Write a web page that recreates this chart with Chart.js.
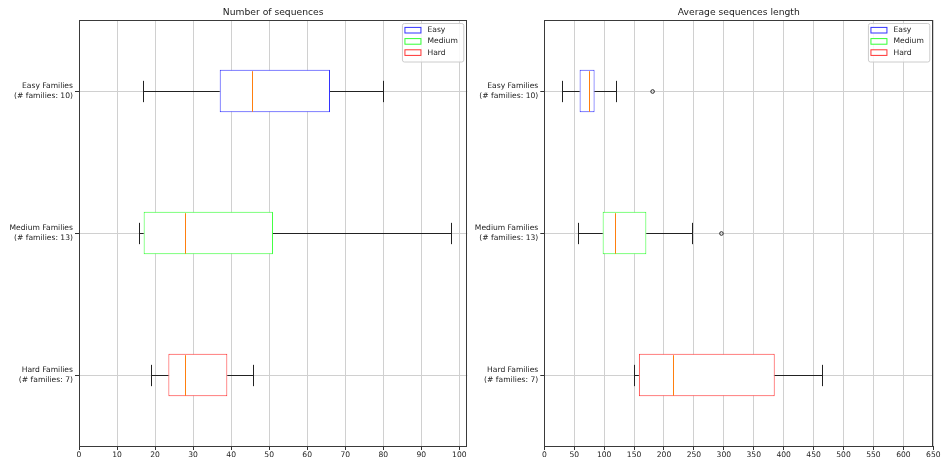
<!DOCTYPE html>
<html>
<head>
<meta charset="utf-8">
<script src="https://cdn.jsdelivr.net/npm/chart.js@4.4.0/dist/chart.umd.min.js"></script>
<style>
    body { margin: 0; background: #fff; }
    #left { position: absolute; left: 0; top: 0; }
    #right { position: absolute; left: 470px; top: 0; }
</style>
</head>
<body>
<canvas id="left" width="470" height="461"></canvas>
<canvas id="right" width="473" height="461"></canvas>
<script>
// الفئات والمستويات
const categories = [
    ['Easy Families', '(# families: 10)'],
    ['Medium Families', '(# families: 13)'],
    ['Hard Families', '(# families: 7)']
];
const levels = ['Easy', 'Medium', 'Hard'];
const levelColors = ['#3333ff', '#33ff33', '#ff3333'];

// عدد التسلسلات
const countLow = [17, 16, 19];
const countQ1 = [37, 17, 23.5];
const countMedian = [45.5, 28, 28];
const countQ3 = [66, 51, 39];
const countHigh = [80, 98, 46];
const countOutliers = [[], [], []];
const countTicks = [0, 10, 20, 30, 40, 50, 60, 70, 80, 90, 100];

// متوسط طول التسلسلات
const lenLow = [30, 57, 151];
const lenQ1 = [59, 97.5, 158];
const lenMedian = [75, 119, 216];
const lenQ3 = [84, 170.5, 385];
const lenHigh = [120, 248, 465];
const lenOutliers = [[181], [296], []];
const lenTicks = [0, 50, 100, 150, 200, 250, 300, 350, 400, 450, 500, 550, 600, 650];

const FONT = 'DejaVu Sans';

// محاذاة الخط على البكسل ليبقى حادا
const snap = v => Math.round(v - 0.5) + 0.5;

// رسم الشعيرات والوسيط والإطار ومفتاح الرسم والعنوان
const boxPlugin = {
    id: 'boxExtras',
    afterDatasetsDraw(chart) {
        const st = chart.options.plugins.boxExtras;
        const xs = chart.scales.x;
        const ys = chart.scales.y;
        const ctx = chart.ctx;
        const band = ys.getPixelForValue(1) - ys.getPixelForValue(0);
        const boxHalf = band * 0.15;
        const capHalf = band * 0.075;
        ctx.save();
        ctx.lineWidth = 1;
        categories.forEach((c, j) => {
            const y = snap(ys.getPixelForValue(j));
            const lo = snap(xs.getPixelForValue(st.low[j]));
            const q1 = xs.getPixelForValue(st.q1[j]);
            const q3 = xs.getPixelForValue(st.q3[j]);
            const hi = snap(xs.getPixelForValue(st.high[j]));
            const med = snap(xs.getPixelForValue(st.median[j]));
            ctx.strokeStyle = '#222';
            ctx.beginPath();
            ctx.moveTo(lo, y); ctx.lineTo(q1, y);
            ctx.moveTo(q3, y); ctx.lineTo(hi, y);
            ctx.moveTo(lo, y - capHalf); ctx.lineTo(lo, y + capHalf);
            ctx.moveTo(hi, y - capHalf); ctx.lineTo(hi, y + capHalf);
            ctx.stroke();
            ctx.strokeStyle = '#ff7f0e';
            ctx.beginPath();
            ctx.moveTo(med, y - boxHalf + 1); ctx.lineTo(med, y + boxHalf - 1);
            ctx.stroke();
            ctx.strokeStyle = '#222';
            st.outliers[j].forEach(v => {
                ctx.beginPath();
                ctx.arc(xs.getPixelForValue(v), y, 1.8, 0, Math.PI * 2);
                ctx.stroke();
            });
        });
        ctx.restore();
    },
    afterDraw(chart) {
        const st = chart.options.plugins.boxExtras;
        const a = chart.chartArea;
        const ctx = chart.ctx;
        ctx.save();
        // الإطار
        ctx.strokeStyle = '#3a3a3a';
        ctx.lineWidth = 1;
        ctx.strokeRect(Math.round(a.left) + 0.5, Math.round(a.top) + 0.5,
            Math.round(a.right - a.left) - 1, Math.round(a.bottom - a.top));
        // العنوان فوق منطقة الرسم
        ctx.fillStyle = '#222';
        ctx.font = `9.2px "${FONT}"`;
        ctx.textAlign = 'center';
        ctx.textBaseline = 'middle';
        ctx.fillText(st.title, (a.left + a.right) / 2, a.top - 7.5);
        // مفتاح الرسم
        ctx.font = `7.6px "${FONT}"`;
        const tw = Math.max(...chart.data.datasets.map(d => ctx.measureText(d.label).width));
        const w = 25 + tw + 6;
        const h = 38.5;
        const fx = a.right - 3.5 - w;
        const fy = a.top + 3.5;
        ctx.fillStyle = 'rgba(255,255,255,0.85)';
        ctx.strokeStyle = '#cccccc';
        ctx.beginPath();
        ctx.roundRect(fx, fy, w, h, 2);
        ctx.fill();
        ctx.stroke();
        chart.data.datasets.forEach((d, i) => {
            const cy = fy + 6.7 + i * 11.2;
            ctx.fillStyle = '#fff';
            ctx.strokeStyle = d.borderColor;
            ctx.fillRect(fx + 2.5, cy - 2.8, 16, 5.6);
            ctx.strokeRect(fx + 2.5, cy - 2.8, 16, 5.6);
            ctx.fillStyle = '#222';
            ctx.textBaseline = 'middle';
            ctx.textAlign = 'left';
            ctx.fillText(d.label, fx + 25, cy);
        });
        ctx.restore();
    }
};

function makeChart(id, title, low, q1, median, q3, high, outliers, ticks, xMax, yWidth, padRight) {
    const datasets = levels.map((lvl, i) => ({
        label: lvl,
        data: categories.map((c, j) => j === i ? [q1[j], q3[j]] : null),
        borderColor: levelColors[i],
        backgroundColor: '#ffffff',
        borderWidth: 1,
        borderSkipped: false,
        grouped: false,
        barPercentage: 0.3,
        categoryPercentage: 1
    }));
    return new Chart(document.getElementById(id), {
        type: 'bar',
        data: { labels: categories, datasets: datasets },
        plugins: [boxPlugin],
        options: {
            indexAxis: 'y',
            responsive: false,
            animation: false,
            layout: { padding: { left: 0, right: padRight, top: 20, bottom: 0 } },
            plugins: {
                legend: { display: false },
                tooltip: { enabled: false },
                title: { display: false },
                boxExtras: { title, low, q1, median, q3, high, outliers }
            },
            scales: {
                x: {
                    type: 'linear',
                    min: 0,
                    max: xMax,
                    afterBuildTicks: s => { s.ticks = ticks.map(v => ({ value: v })); },
                    afterFit: s => { s.height = 15; },
                    border: { display: false },
                    grid: { color: '#d0d0d0', lineWidth: 1, tickColor: '#333', tickLength: 4 },
                    ticks: { color: '#222', padding: 0, maxRotation: 0, autoSkip: false,
                        font: { family: FONT, size: 7.6, lineHeight: 1.2 } }
                },
                y: {
                    offset: true,
                    afterFit: s => { s.width = yWidth; },
                    border: { display: false },
                    grid: { offset: false, color: '#d0d0d0', lineWidth: 1, tickColor: '#333', tickLength: 4 },
                    ticks: { color: '#222', padding: 2,
                        font: { family: FONT, size: 7.6, lineHeight: 1.2 } }
                }
            }
        }
    });
}

makeChart('left', 'Number of sequences', countLow, countQ1, countMedian, countQ3, countHigh,
    countOutliers, countTicks, 102.1, 79, 2.7);
makeChart('right', 'Average sequences length', lenLow, lenQ1, lenMedian, lenQ3, lenHigh,
    lenOutliers, lenTicks, 650, 74.3, 9.7);
</script>
</body>
</html>
